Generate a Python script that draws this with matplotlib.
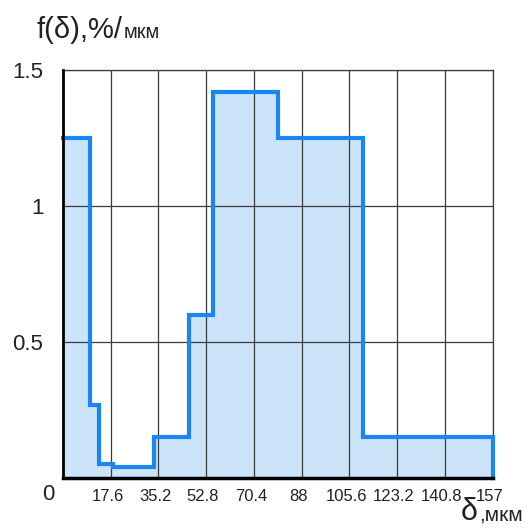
import numpy as np
import matplotlib.pyplot as plt
from matplotlib.transforms import ScaledTranslation

# ---- DATA ---- #
edges = [0, 10, 13.4, 18.4, 33.3, 46.2, 55, 78.5, 109.5, 157]
density = [1.25, 0.27, 0.05, 0.04, 0.15, 0.6, 1.42, 1.25, 0.15]
x_tick_labels = ["", "17.6", "35.2", "52.8", "70.4", "88", "105.6", "123.2", "140.8", "157"]
y_ticks = [0.5, 1, 1.5]
y_tick_labels = ["0.5", "1", "1.5"]

# ---- STYLE ---- #
plt.rcParams["font.family"] = ["Liberation Sans", "DejaVu Sans"]
line_color = "#1a86f2"
fill_color = "#cce4fa"
grid_color = "#3a3a3a"
text_color = "#222222"

fig = plt.figure(figsize=(5.32, 5.32), dpi=100)
ax = fig.add_axes([0.118, 0.1015, 0.808, 0.767])

x_max = edges[-1]
ax.set_xlim(0, x_max)
ax.set_ylim(0, 1.5)

# ---- HISTOGRAM ---- #
ax.fill_between(edges, np.append(density, density[-1]), step="post",
                color=fill_color, linewidth=0, zorder=1)
ax.step(edges, np.append(density, 0), where="post", color=line_color,
        linewidth=3, zorder=3, clip_on=False, solid_joinstyle="miter")

# ---- GRID ---- #
x_ticks = np.linspace(0, x_max, len(x_tick_labels))
ax.set_xticks(x_ticks)
ax.set_xticklabels(x_tick_labels, fontsize=12, color=text_color)
ax.set_yticks(y_ticks)
ax.set_yticklabels(y_tick_labels, fontsize=16, color=text_color)
ax.grid(True, color=grid_color, linewidth=0.9, zorder=2)
ax.tick_params(length=0)
ax.tick_params(axis="x", pad=8)
ax.tick_params(axis="y", pad=14)

# nudge x tick labels a bit left like the original
shift = ScaledTranslation(-3 / 100, 0, fig.dpi_scale_trans)
for lbl in ax.get_xticklabels():
    lbl.set_transform(lbl.get_transform() + shift)

for side in ["top", "right"]:
    ax.spines[side].set_color(grid_color)
    ax.spines[side].set_linewidth(0.9)
ax.spines["left"].set_linewidth(2)
ax.spines["bottom"].set_linewidth(2.5)
for side in ["left", "bottom"]:
    ax.spines[side].set_zorder(4)

# ---- LABELS ---- #
ax.text(-0.033, -0.04, "0", transform=ax.transAxes, fontsize=16,
        color=text_color, ha="center", va="center")

ylab = fig.text(0.068, 0.928, "f(δ),%/", fontsize=21, ha="left",
                va="baseline", color=text_color)
xlab = fig.text(0.866, 0.022, "δ", fontsize=22, ha="left",
                va="baseline", color=text_color)

# put the unit right after each label, on the same baseline
fig.canvas.draw()
renderer = fig.canvas.get_renderer()
for main, unit, size, gap in [(ylab, "мкм", 14.5, 1.5), (xlab, ",мкм", 15, 2)]:
    x_end = main.get_window_extent(renderer).x1 + gap
    fx = x_end / fig.bbox.width
    fig.text(fx, main.get_position()[1], unit, fontsize=size, ha="left",
             va="baseline", color=text_color)

plt.savefig("out.png", dpi=100)
